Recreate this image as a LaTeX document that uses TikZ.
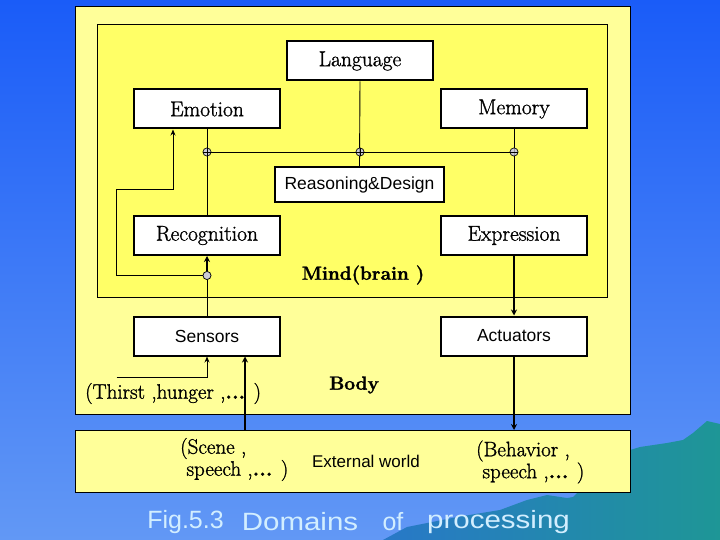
\documentclass[tikz,border=0pt]{standalone}
\usepackage{fontspec}
\newfontfamily\sansf{Liberation Sans}
\newfontfamily\serf[RawFeature={embolden=1.2}]{Latin Modern Roman}
\newfontfamily\serfbb[RawFeature={embolden=1.6}]{Latin Modern Roman}
\newcommand{\serfb}{\serfbb\bfseries}
\usetikzlibrary{arrows.meta}
\definecolor{bgtop}{RGB}{26,92,248}
\definecolor{bgbot}{RGB}{98,152,245}
\definecolor{bodyyel}{RGB}{255,255,153}
\definecolor{mindyel}{RGB}{255,255,102}
\definecolor{mount}{RGB}{30,150,150}
\definecolor{mountb}{RGB}{40,120,200}
\definecolor{captc}{RGB}{210,238,255}
\definecolor{junc}{RGB}{205,205,215}
\tikzset{
  boxn/.style={draw=black, line width=2pt, fill=white, minimum width=146pt, minimum height=39pt, inner sep=0pt, font=\serf\fontsize{21.5}{24}\selectfont},
  sboxn/.style={boxn, font=\sansf\fontsize{17.5}{20}\selectfont},
  conn/.style={line width=0.9pt},
  arr/.style={line width=0.9pt, -{Stealth[length=6pt,width=5pt]}},
  tarr/.style={line width=2pt, -{Stealth[length=6pt,width=6pt]}},
  juncn/.style={circle, draw=black, line width=0.6pt, fill=junc, minimum size=8pt, inner sep=0pt},
  frame/.style={draw=black, line width=0.9pt},
  lbl/.style={inner sep=0pt, font=\serf\fontsize{21}{17}\selectfont},
  boldl/.style={inner sep=0pt, font=\serfb\fontsize{19}{20}\selectfont},
  captn/.style={inner sep=0pt, text=captc, font=\sansf\fontsize{25}{28}\selectfont}
}
\begin{document}
\begin{tikzpicture}[x=1pt,y=-1pt]
\useasboundingbox (0,0) rectangle (720,540);
\shade[top color=bgtop, bottom color=bgbot] (0,0) rectangle (720,540);
% mountain
\shade[left color=mountb, right color=mount] (383,540) -- (407,527) -- (457,517) -- (500,510) -- (527,500) -- (547,495) -- (567,498) -- (573,497) -- (600,470) -- (630,450) -- (640,447) -- (667,443) -- (683,440) -- (693,433) -- (707,421) -- (720,424) -- (720,540) -- cycle;
% frames
\draw[frame, fill=bodyyel] (75,6) rectangle (630,414);
\draw[frame, fill=mindyel] (97,24) rectangle (607,297);
\draw[frame, fill=bodyyel] (75,430) rectangle (630,492);
% nodes
\node[boxn] (lang) at (360,61) {Language};
\node[boxn] (emo) at (207,109) {Emotion};
\node[boxn] (mem) at (514,109) {Memory};
\node[sboxn, minimum width=169pt, minimum height=35pt] (reas) at (359.5,185) {Reasoning\&Design};
\node[boxn] (rec) at (207,235.5) {Recognition};
\node[boxn] (exp) at (514,235.5) {Expression};
\node[sboxn] (sen) at (207,336) {Sensors};
\node[sboxn] (act) at (514,336) {Actuators};
% junctions
\coordinate (j1) at (207,152);
\coordinate (j2) at (360,152);
\coordinate (j3) at (514,152);
\coordinate (j4) at (207,275.5);
\node[juncn] (c1) at (j1) {};
\node[juncn] (c2) at (j2) {};
\node[juncn] (c3) at (j3) {};
\node[juncn] (c4) at (j4) {};
% connectors
\draw[conn] (emo.south) -- (rec.north);
\draw[conn] (lang.south) -- (reas.north);
\draw[conn] (mem.south) -- (exp.north);
\draw[conn] (j1) -- (j3);
\draw[conn] (sen.north) -- (c4.south);
\draw[line width=2pt, -{Stealth[length=6pt,width=6pt]}] (c4.north) -- (rec.south);
\coordinate (f1) at (116.5,275.5);
\coordinate (f2) at (116.5,189);
\coordinate (f3) at (173,189);
\draw[arr] (c4.west) -- (f1) -- (f2) -- (f3) -- (emo.south -| f3);
\draw[tarr, line width=1.6pt] (exp.south) -- (act.north);
\coordinate (t1) at (116.5,377);
\draw[arr] (t1) -- (t1 -| sen.south) -- (sen.south);
\coordinate (w1) at (245,430);
\draw[tarr] (w1) -- (w1 |- sen.south);
\coordinate (w2) at (514,430);
\draw[tarr] (act.south) -- (w2);
% junction circles on top of lines
\node[juncn, opacity=0.75] at (j1) {};
\node[juncn, opacity=0.75] at (j2) {};
\node[juncn, opacity=0.75] at (j3) {};
\node[juncn] at (j4) {};
\draw[line width=0.6pt] (207,148) -- (207,156);
\draw[line width=0.6pt] (360,148) -- (360,156);
\draw[line width=0.6pt] (203,152) -- (211,152);
\draw[line width=0.6pt] (356,152) -- (364,152);
\draw[line width=0.6pt] (510,152) -- (518,152);
% labels
\node[boldl] (mind) at (363,275) {Mind(brain )};
\node[boldl] (body) at (354,385) {Body};
\node[lbl, anchor=west] (thirst) at (85,393.5) {(Thirst ,hunger ,{\serfb ...} )};
\node[lbl, align=left, anchor=west] (scene) at (180,459.5) {(Scene ,\\ \ speech ,{\serfb ...} )};
\node[inner sep=0pt, font=\sansf\fontsize{17}{20}\selectfont] (ext) at (366,461) {External world};
\node[lbl, align=left, anchor=west, font=\serf\fontsize{21}{19}\selectfont] (beh) at (476,462) {(Behavior ,\\ \ speech ,{\serfb ...} )};
% caption
\node[captn] (cap1) at (185.5,522) {Fig.5.3};
\node[captn, xscale=1.18, transform shape] (cap2) at (300,522) {Domains};
\node[captn] (cap3) at (393,522) {of};
\node[captn, xscale=1.18, transform shape] (cap4) at (498.5,522) {processing};
\end{tikzpicture}
\end{document}
